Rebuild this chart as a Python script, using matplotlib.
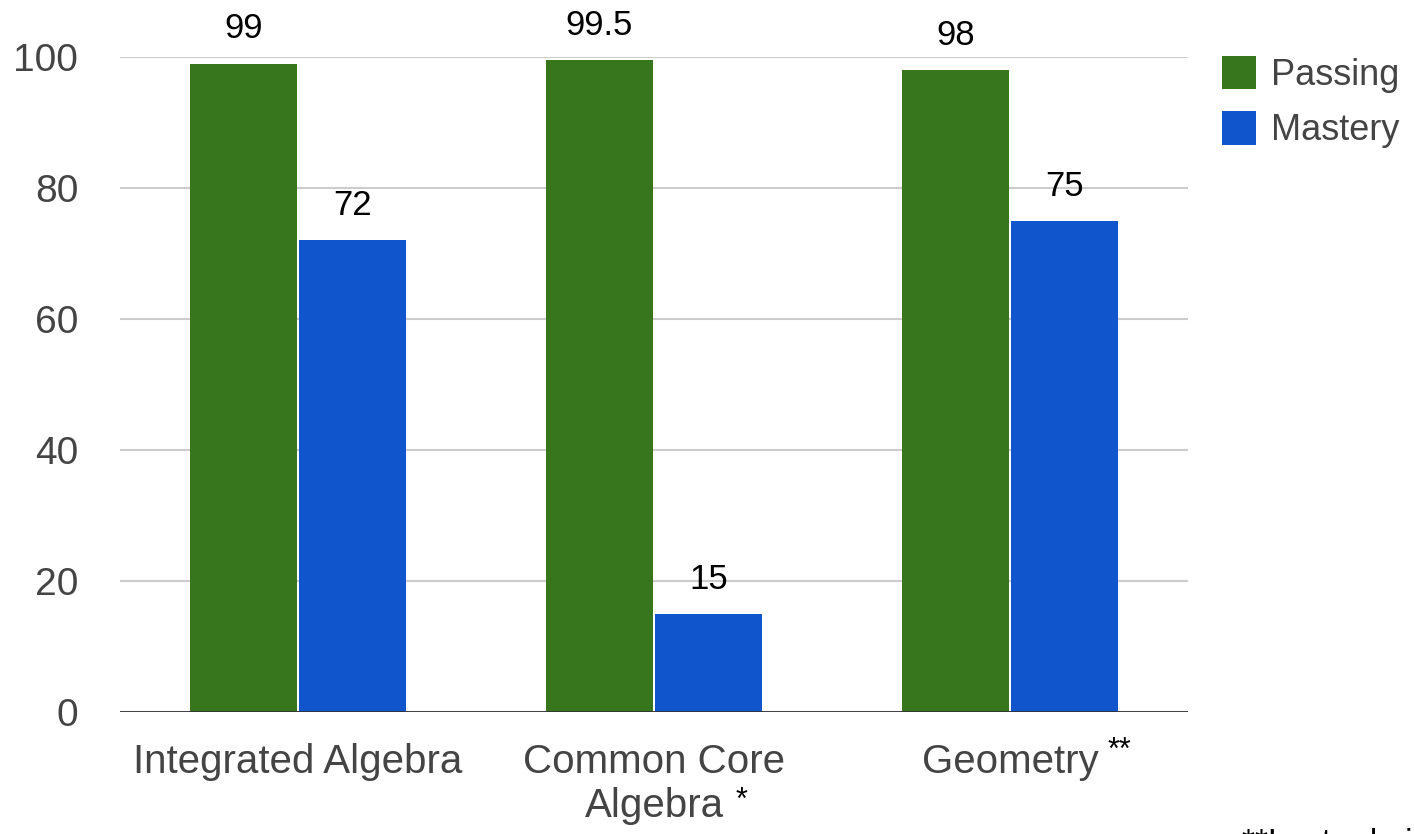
import numpy as np
import matplotlib.pyplot as plt

plt.rcParams['font.family'] = ['Liberation Sans', 'DejaVu Sans']

categories = ["Integrated Algebra", "Common Core\nAlgebra", "Geometry"]
passing = [99, 99.5, 98]
mastery = [72, 15, 75]
passing_labels = ["99", "99.5", "98"]
mastery_labels = ["72", "15", "75"]
yticks = [0, 20, 40, 60, 80, 100]

GREEN = "#38761d"
BLUE = "#1155cc"
GRID = "#cccccc"
TICK = "#444444"

fig = plt.figure(figsize=(14.14, 8.34), dpi=100)
ax = fig.add_axes([120 / 1414, 122 / 834, 1068 / 1414, 655 / 834])

x = np.arange(len(categories)) + 0.5
w = 0.30
gap = 0.003
b1 = ax.bar(x - w / 2 - gap, passing, w, color=GREEN, label="Passing", zorder=2)
b2 = ax.bar(x + w / 2 + gap, mastery, w, color=BLUE, label="Mastery", zorder=2)

for bars, labels in ((b1, passing_labels), (b2, mastery_labels)):
    for rect, lab in zip(bars, labels):
        ax.annotate(lab, (rect.get_x() + rect.get_width() / 2, rect.get_height()),
                    xytext=(0, 13), textcoords="offset points", ha="center", va="bottom",
                    fontsize=25, color="black", annotation_clip=False)

ax.set_xlim(0, 3)
ax.set_ylim(0, 100)
ax.set_yticks(yticks)
ax.set_yticklabels([str(v) for v in yticks], fontsize=28, color=TICK)
ax.set_xticks(x)
ax.set_xticklabels(categories, fontsize=29, color=TICK, linespacing=1.2)
ax.tick_params(axis="both", length=0)
ax.tick_params(axis="x", pad=22)
ax.tick_params(axis="y", pad=30)

ax.grid(axis="y", color=GRID, linewidth=1.5, zorder=0)
ax.axhline(0, color="#333333", linewidth=2, zorder=3)
for s in ax.spines.values():
    s.set_visible(False)

# footnote markers next to the category labels
trans = ax.get_xaxis_transform()
ax.text(1.745, -0.135, "*", transform=trans, fontsize=22, ha="center", va="center", color="black")
ax.text(2.808, -0.06, "**", transform=trans, fontsize=22, ha="center", va="center", color="black")

ax.legend(loc="upper left", bbox_to_anchor=(1222 / 1414, 1 - 56 / 834),
          bbox_transform=fig.transFigure, frameon=False, fontsize=26,
          borderpad=0, borderaxespad=0,
          handlelength=0.95, handleheight=1.05, handletextpad=0.4, labelspacing=0.5,
          labelcolor=TICK)

fig.text(1242 / 1414, 6 / 834, "**Last administered", fontsize=24, ha="left", va="top", color="black")

fig.savefig("out.png", dpi=100)
